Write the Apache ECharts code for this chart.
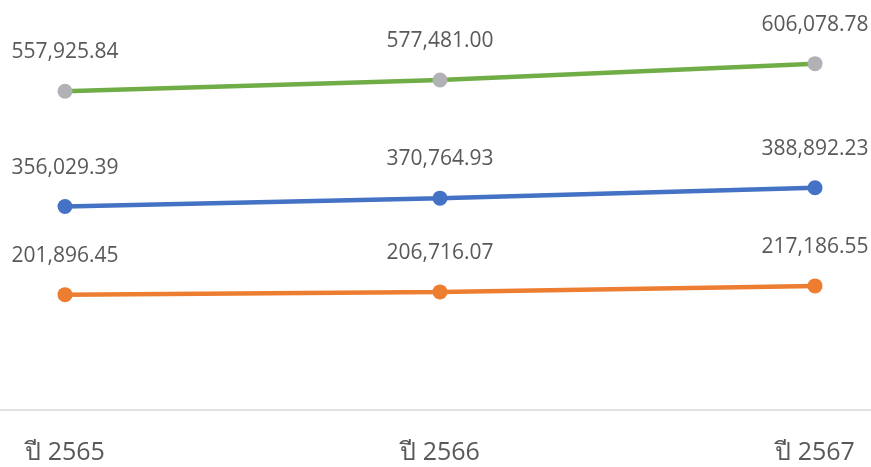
<!DOCTYPE html>
<html>
<head>
<meta charset="utf-8">
<script src="https://cdn.jsdelivr.net/npm/echarts@6/dist/echarts.min.js"></script>
<style>
html,body{margin:0;padding:0;background:#fff;}
#chart{width:871px;height:467px;}
</style>
</head>
<body>
<div id="chart"></div>
<script>
var categories = ['ปี 2565', 'ปี 2566', 'ปี 2567'];
var totalValues = [557925.84, 577481.00, 606078.78];
var midValues = [356029.39, 370764.93, 388892.23];
var lowValues = [201896.45, 206716.07, 217186.55];

var labelFont = '"Open Sans", "Noto Sans", sans-serif';

function lineSeries(data, lineColor, dotColor) {
    return {
        type: 'line',
        data: data,
        symbol: 'circle',
        symbolSize: 15,
        lineStyle: { color: lineColor, width: 4.5 },
        itemStyle: { color: dotColor },
        label: {
            show: true,
            position: 'top',
            distance: 21,
            color: '#595959',
            fontSize: 21,
            fontFamily: labelFont,
            formatter: function(p) {
                return p.value.toLocaleString('en-US', { minimumFractionDigits: 2, maximumFractionDigits: 2 });
            }
        },
        emphasis: { disabled: true },
        animation: false
    };
}

var chart = echarts.init(document.getElementById('chart'));
chart.setOption({
    backgroundColor: '#ffffff',
    grid: [
        { left: 65, right: 56, top: 10, bottom: 57 },
        { left: 0, right: 0, top: 10, bottom: 57 }
    ],
    xAxis: [
        {
            type: 'category',
            gridIndex: 0,
            data: categories,
            boundaryGap: false,
            axisLine: { show: false },
            axisTick: { show: false },
            axisLabel: {
                color: '#595959',
                fontSize: 25,
                fontFamily: labelFont,
                margin: 30
            }
        },
        {
            type: 'value',
            gridIndex: 1,
            min: 0,
            max: 1,
            axisLine: { show: true, lineStyle: { color: '#d9d9d9', width: 1.5 } },
            axisTick: { show: false },
            axisLabel: { show: false },
            splitLine: { show: false }
        }
    ],
    yAxis: [
        {
            type: 'value',
            gridIndex: 0,
            min: 0,
            max: 700000,
            show: false,
            splitLine: { show: false }
        },
        {
            type: 'value',
            gridIndex: 1,
            min: 0,
            max: 1,
            show: false
        }
    ],
    series: [
        lineSeries(totalValues, '#70ad47', '#b2b2b6'),
        lineSeries(midValues, '#4472c4', '#4472c4'),
        lineSeries(lowValues, '#ed7d31', '#ed7d31')
    ]
});
</script>
</body>
</html>
